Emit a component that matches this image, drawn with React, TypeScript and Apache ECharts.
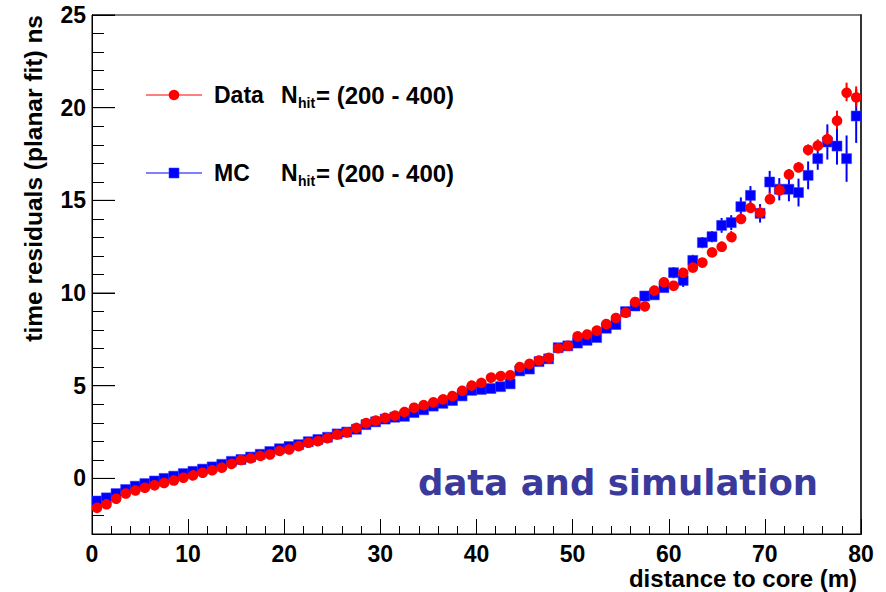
import React, { useEffect, useRef } from "react";
import * as echarts from "echarts";

// Bin centres (1 m bins from 0 to 80 m)
const binCenters = [
  0.5, 1.5, 2.5, 3.5, 4.5, 5.5, 6.5, 7.5, 8.5, 9.5,
  10.5, 11.5, 12.5, 13.5, 14.5, 15.5, 16.5, 17.5, 18.5, 19.5,
  20.5, 21.5, 22.5, 23.5, 24.5, 25.5, 26.5, 27.5, 28.5, 29.5,
  30.5, 31.5, 32.5, 33.5, 34.5, 35.5, 36.5, 37.5, 38.5, 39.5,
  40.5, 41.5, 42.5, 43.5, 44.5, 45.5, 46.5, 47.5, 48.5, 49.5,
  50.5, 51.5, 52.5, 53.5, 54.5, 55.5, 56.5, 57.5, 58.5, 59.5,
  60.5, 61.5, 62.5, 63.5, 64.5, 65.5, 66.5, 67.5, 68.5, 69.5,
  70.5, 71.5, 72.5, 73.5, 74.5, 75.5, 76.5, 77.5, 78.5, 79.5,
];

// Measured time residuals (ns)
const dataValues = [
  -1.53, -1.35, -1.04, -0.77, -0.59, -0.45, -0.32, -0.2, -0.05, 0.09,
  0.22, 0.36, 0.49, 0.63, 0.85, 1.03, 1.12, 1.26, 1.33, 1.53,
  1.62, 1.8, 1.96, 2.07, 2.23, 2.41, 2.55, 2.77, 3.05, 3.18,
  3.31, 3.45, 3.63, 3.85, 3.99, 4.17, 4.32, 4.48, 4.77, 5.05,
  5.2, 5.5, 5.58, 5.61, 6.03, 6.24, 6.42, 6.57, 7.02, 7.2,
  7.73, 7.83, 8.04, 8.35, 8.7, 9.0, 9.57, 9.35, 10.15, 10.6,
  10.43, 11.13, 11.42, 11.64, 12.23, 12.54, 13.1, 14.07, 14.64, 14.37,
  15.15, 15.63, 16.44, 16.82, 17.72, 17.99, 18.35, 19.34, 20.85, 20.6,
];
const dataErrors = [
  0.06, 0.06, 0.06, 0.06, 0.06, 0.06, 0.06, 0.06, 0.06, 0.06,
  0.06, 0.06, 0.06, 0.06, 0.06, 0.06, 0.06, 0.06, 0.06, 0.06,
  0.06, 0.06, 0.06, 0.06, 0.06, 0.06, 0.06, 0.06, 0.06, 0.06,
  0.06, 0.06, 0.06, 0.06, 0.06, 0.06, 0.06, 0.06, 0.06, 0.06,
  0.1, 0.1, 0.1, 0.1, 0.1, 0.1, 0.1, 0.1, 0.1, 0.1,
  0.1, 0.1, 0.1, 0.1, 0.1, 0.15, 0.15, 0.15, 0.15, 0.18,
  0.2, 0.2, 0.2, 0.2, 0.2, 0.25, 0.25, 0.25, 0.25, 0.3,
  0.3, 0.3, 0.25, 0.25, 0.3, 0.3, 0.35, 0.5, 0.5, 0.55,
];

// Simulated time residuals (ns)
const mcValues = [
  -1.22, -1.05, -0.82, -0.6, -0.42, -0.28, -0.14, 0.0, 0.12, 0.26,
  0.38, 0.5, 0.62, 0.76, 0.92, 1.02, 1.15, 1.3, 1.45, 1.6,
  1.72, 1.82, 1.98, 2.1, 2.22, 2.4, 2.5, 2.65, 2.9, 3.05,
  3.2, 3.3, 3.35, 3.55, 3.7, 3.9, 4.05, 4.2, 4.45, 4.75,
  4.8, 4.85, 4.95, 5.1, 5.8, 5.9, 6.3, 6.45, 7.05, 7.15,
  7.3, 7.45, 7.6, 8.1, 8.3, 9.0, 9.3, 9.84, 9.9, 10.29,
  11.1, 10.68, 11.76, 12.72, 13.04, 13.65, 13.8, 14.66, 15.27, 14.3,
  15.99, 15.6, 15.6, 15.42, 16.35, 17.25, 18.15, 17.93, 17.25, 19.55,
];
const mcErrors = [
  0.08, 0.08, 0.08, 0.08, 0.08, 0.08, 0.08, 0.08, 0.08, 0.08,
  0.08, 0.08, 0.08, 0.08, 0.08, 0.08, 0.08, 0.08, 0.08, 0.08,
  0.08, 0.08, 0.08, 0.08, 0.08, 0.08, 0.08, 0.08, 0.08, 0.08,
  0.08, 0.08, 0.08, 0.08, 0.08, 0.08, 0.08, 0.08, 0.08, 0.08,
  0.08, 0.08, 0.08, 0.08, 0.08, 0.12, 0.12, 0.12, 0.12, 0.12,
  0.12, 0.12, 0.12, 0.12, 0.15, 0.2, 0.2, 0.2, 0.2, 0.2,
  0.3, 0.35, 0.3, 0.3, 0.3, 0.4, 0.4, 0.5, 0.5, 0.5,
  0.6, 0.6, 0.65, 0.75, 0.75, 0.6, 0.95, 1.0, 1.25, 1.45,
];

// Axis ticks
const xTicks = [0, 10, 20, 30, 40, 50, 60, 70, 80];
const yMajorTicks = [0, 5, 10, 15, 20, 25];

const FONT = "'Liberation Sans', Arial, Helvetica, sans-serif";
const RED = "#ff0000";
const BLUE = "#0000ff";

function errorSeries(
  name: string,
  values: number[],
  errors: number[],
  color: string,
  marker: "circle" | "square",
  z: number
) {
  const points = binCenters.map((x, i) => [x, values[i], errors[i]]);
  return {
    name,
    type: "custom",
    z,
    clip: true,
    xAxisIndex: 0,
    yAxisIndex: 0,
    encode: { x: 0, y: 1 },
    data: points,
    renderItem: (_params: any, api: any) => {
      const x = api.value(0);
      const y = api.value(1);
      const e = api.value(2);
      const p = api.coord([x, y]);
      const hi = api.coord([x, y + e]);
      const lo = api.coord([x, y - e]);
      const bar = {
        type: "line",
        shape: { x1: p[0], y1: hi[1], x2: p[0], y2: lo[1] },
        style: { stroke: color, lineWidth: 2 },
      };
      const mark =
        marker === "circle"
          ? {
              type: "circle",
              shape: { cx: p[0], cy: p[1], r: 5.3 },
              style: { fill: color },
            }
          : {
              type: "rect",
              shape: { x: p[0] - 5, y: p[1] - 5, width: 10, height: 10 },
              style: { fill: color, stroke: "rgba(60,60,255,0.55)", lineWidth: 1 },
            };
      return { type: "group", children: [bar, mark] };
    },
  };
}

// Long (major) ticks on the y axis at every 5 ns, placed through the axis scale
function yMajorTickSeries() {
  return {
    name: "yMajorTicks",
    type: "custom",
    z: 1,
    clip: false,
    silent: true,
    xAxisIndex: 0,
    yAxisIndex: 0,
    encode: { x: 0, y: 1 },
    data: yMajorTicks.map((v) => [0, v]),
    renderItem: (_params: any, api: any) => {
      const p = api.coord([api.value(0), api.value(1)]);
      return {
        type: "line",
        shape: { x1: p[0], y1: p[1], x2: p[0] + 23, y2: p[1] },
        style: { stroke: "#000", lineWidth: 1 },
      };
    },
  };
}

export default function App() {
  const ref = useRef<HTMLDivElement>(null);

  useEffect(() => {
    if (!ref.current) return;
    const chart = echarts.init(ref.current, undefined, { renderer: "svg" });

    const axisText = {
      color: "#000",
      fontSize: 23,
      fontWeight: "bold",
      fontFamily: FONT,
    };

    const legendRow = (y: number, label: string, color: string, marker: "circle" | "square") => [
      {
        type: "line",
        shape: { x1: 146, y1: y, x2: 202, y2: y },
        style: { stroke: color, lineWidth: 1.2 },
      },
      marker === "circle"
        ? { type: "circle", shape: { cx: 174, cy: y, r: 5.3 }, style: { fill: color } }
        : {
            type: "rect",
            shape: { x: 169, y: y - 5, width: 10, height: 10 },
            style: { fill: color, stroke: "rgba(60,60,255,0.55)", lineWidth: 1 },
          },
      {
        type: "text",
        x: 214,
        y,
        style: { text: label, ...axisText, fontSize: 23, textAlign: "left", textVerticalAlign: "middle" },
      },
      {
        type: "text",
        x: 281,
        y,
        style: { text: "N", ...axisText, fontSize: 23, textAlign: "left", textVerticalAlign: "middle" },
      },
      {
        type: "text",
        x: 298,
        y: y + 8,
        style: { text: "hit", ...axisText, fontSize: 14, textAlign: "left", textVerticalAlign: "middle" },
      },
      {
        type: "text",
        x: 316,
        y,
        style: {
          text: "= (200 - 400)",
          ...axisText,
          fontSize: 24,
          textAlign: "left",
          textVerticalAlign: "middle",
        },
      },
    ];

    chart.setOption({
      animation: false,
      backgroundColor: "#ffffff",
      grid: {
        left: 92,
        right: 25,
        top: 15,
        bottom: 58,
        show: true,
        borderColor: "#000",
        borderWidth: 1,
        backgroundColor: "transparent",
      },
      xAxis: [
        {
          type: "value",
          min: 0,
          max: 80,
          interval: 10,
          axisLine: { show: true, onZero: false, lineStyle: { color: "#000", width: 1 } },
          axisTick: { show: true, inside: true, length: 15, lineStyle: { color: "#000", width: 1 } },
          minorTick: { show: true, splitNumber: 5, length: 8, lineStyle: { color: "#000", width: 1 } },
          axisLabel: {
            ...axisText,
            margin: 8,
            customValues: xTicks,
            formatter: (v: number) => String(v),
          },
          splitLine: { show: false },
          minorSplitLine: { show: false },
        },
      ],
      yAxis: [
        {
          type: "value",
          min: -3,
          max: 25,
          position: "left",
          axisLine: { show: true, onZero: false, lineStyle: { color: "#000", width: 1 } },
          axisTick: {
            show: true,
            inside: true,
            length: 23,
            customValues: yMajorTicks,
            lineStyle: { color: "#000", width: 1 },
          },
          axisLabel: {
            ...axisText,
            margin: 6,
            customValues: yMajorTicks,
            formatter: (v: number) => String(v),
          },
          splitLine: { show: false },
        },
        {
          type: "value",
          min: -3,
          max: 25,
          interval: 1,
          position: "left",
          axisLine: { show: false },
          axisTick: { show: true, inside: true, length: 12, lineStyle: { color: "#000", width: 1 } },
          axisLabel: { show: false },
          splitLine: { show: false },
        },
        {
          type: "value",
          min: -3,
          max: 25,
          position: "right",
          axisLine: { show: true, onZero: false, lineStyle: { color: "#333", width: 2 } },
          axisTick: { show: false },
          axisLabel: { show: false },
          splitLine: { show: false },
        },
      ],
      series: [
        yMajorTickSeries(),
        errorSeries("MC", mcValues, mcErrors, BLUE, "square", 2),
        errorSeries("Data", dataValues, dataErrors, RED, "circle", 3),
      ],
      graphic: [
        {
          type: "text",
          x: 33,
          y: 15,
          rotation: Math.PI / 2,
          style: {
            text: "time residuals (planar fit) ns",
            ...axisText,
            fontSize: 24.5,
            textAlign: "right",
            textVerticalAlign: "middle",
          },
        },
        {
          type: "text",
          x: 857,
          y: 578,
          style: {
            text: "distance to core (m)",
            ...axisText,
            fontSize: 24,
            textAlign: "right",
            textVerticalAlign: "middle",
          },
        },
        {
          type: "text",
          x: 418,
          y: 482,
          style: {
            text: "data and simulation",
            fill: "#3a3a9c",
            fontSize: 35.5,
            fontWeight: "bold",
            fontFamily: "'Comic Sans MS', 'DejaVu Sans', sans-serif",
            textAlign: "left",
            textVerticalAlign: "middle",
          },
        },
        ...legendRow(95, "Data", RED, "circle"),
        ...legendRow(173, "MC", BLUE, "square"),
      ],
    });

    return () => chart.dispose();
  }, []);

  return (
    <div
      ref={ref}
      style={{ position: "absolute", left: 0, top: 0, width: 886, height: 592, background: "#fff" }}
    />
  );
}
